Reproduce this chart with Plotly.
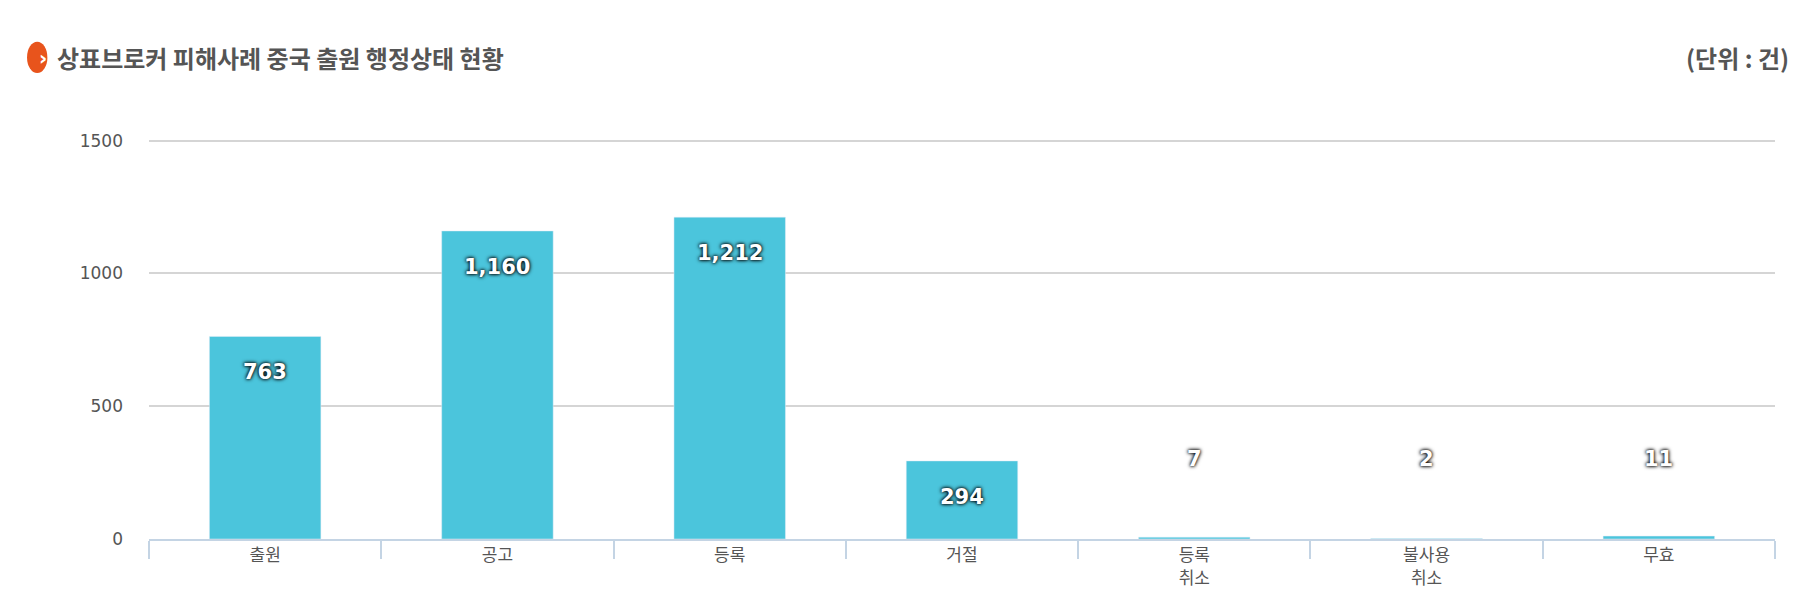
import plotly.graph_objects as go

categories = ["출원", "공고", "등록", "거절", "등록<br>취소", "불사용<br>취소", "무효"]
values = [763, 1160, 1212, 294, 7, 2, 11]
y_ticks = [0, 500, 1000, 1500]

labels = [f"{v:,}" for v in values]
big = [v >= 200 for v in values]
shadow = "0px 0px 3px #000, 0px 0px 4px #000"
lab_font = dict(family="DejaVu Sans", size=21, color="white", weight="bold", shadow=shadow)

fig = go.Figure()
fig.add_trace(go.Bar(
    x=categories, y=values, width=0.48, marker_color="#4bc5dc", hoverinfo="skip",
))
for c, v, l, b in zip(categories, values, labels, big):
    fig.add_annotation(x=c, y=v if b else 300, yshift=-36 if b else 0, text=l, showarrow=False,
                       yanchor="middle", font=lab_font)

fig.add_annotation(xref="paper", yref="paper", x=-0.058, y=1.20, xanchor="left", yanchor="middle",
                   text="<b>상표브로커 피해사례 중국 출원 행정상태 현황</b>", showarrow=False,
                   font=dict(family="Noto Sans CJK KR", size=24, color="#555555"))
fig.add_annotation(xref="paper", yref="paper", x=1.01, y=1.20, xanchor="right", yanchor="middle",
                   text="<b>(단위 : 건)</b>", showarrow=False,
                   font=dict(family="Noto Sans CJK KR", size=24, color="#555555"))
fig.add_shape(type="circle", xref="paper", yref="paper", x0=-0.075, x1=-0.0625, y0=1.162, y1=1.24,
              fillcolor="#e8541c", line_width=0)
fig.add_annotation(xref="paper", yref="paper", x=-0.0688, y=1.20, text="<b>›</b>", showarrow=False,
                   font=dict(size=20, color="white", family="DejaVu Sans"), yanchor="middle")

fig.update_layout(
    width=1802, height=614, plot_bgcolor="white", paper_bgcolor="white",
    margin=dict(l=141, r=35, t=130, b=83), showlegend=False,
    font=dict(family="Noto Sans CJK KR", color="#555555"),
)
fig.update_xaxes(showline=True, linecolor="#c4d4e4", linewidth=2, ticks="outside", tickson="boundaries",
                 ticklen=18, tickcolor="#c4d4e4", tickwidth=1.5,
                 tickfont=dict(size=17, color="#555555"), showgrid=False)
fig.update_yaxes(range=[0, 1510], tickvals=y_ticks, gridcolor="#d5d5d5", gridwidth=1.5, zeroline=False,
                 tickfont=dict(family="DejaVu Sans", size=17, color="#555555"), ticklabelstandoff=25)

fig.write_html("out.html")
